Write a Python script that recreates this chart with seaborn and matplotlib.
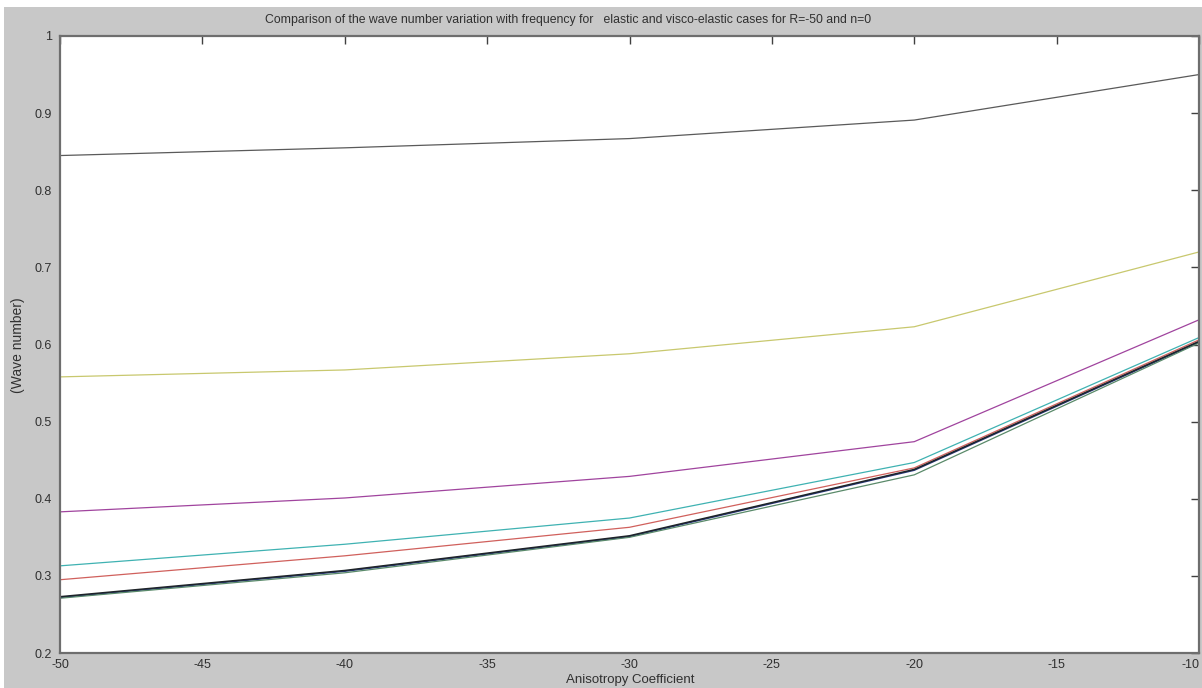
import pandas as pd
import seaborn as sns
import matplotlib.pyplot as plt
from matplotlib.patches import Rectangle

# anisotropy coefficient values (x axis)
aniso = [-50, -40, -30, -20, -10]

# wave number for each curve
top_black = [0.845, 0.855, 0.867, 0.891, 0.950]
yellow = [0.558, 0.567, 0.588, 0.623, 0.720]
magenta = [0.383, 0.401, 0.429, 0.474, 0.632]
cyan = [0.313, 0.341, 0.375, 0.447, 0.609]
red = [0.295, 0.326, 0.363, 0.440, 0.606]
blue = [0.272, 0.306, 0.351, 0.437, 0.603]
green = [0.271, 0.304, 0.350, 0.431, 0.602]
black = [0.273, 0.307, 0.352, 0.438, 0.604]

curves = {"k1": top_black, "y": yellow, "m": magenta, "c": cyan,
          "r": red, "b": blue, "g": green, "k": black}
colours = {"k1": "#5a5a5a", "y": "#c8c86e", "m": "#a0449e", "c": "#3fb2b2",
           "r": "#d0605c", "b": "#2a3a80", "g": "#5a8a6a", "k": "#1e2428"}

rows = []
for name, vals in curves.items():
    for xv, yv in zip(aniso, vals):
        rows.append({"x": xv, "wave": yv, "curve": name})
df = pd.DataFrame(rows)

sns.set_style("white")
plt.rcParams["font.family"] = ["Liberation Sans", "DejaVu Sans"]
plt.rcParams["axes.unicode_minus"] = False

fig = plt.figure(figsize=(12.02, 6.88), dpi=100, facecolor="white")
# MATLAB style grey figure area (screenshot has a thin white border top/left)
fig.patches.append(Rectangle((4 / 1202, 0), 1, 1 - 7 / 688, transform=fig.transFigure,
                             facecolor="#c8c8c8", edgecolor="none", zorder=-5))

ax = fig.add_axes([60 / 1202, 1 - 653 / 688, (1199 - 60) / 1202, (653 - 36) / 688])
ax.set_zorder(3)
ax.set_facecolor("white")

for name in curves:
    sub = df[df["curve"] == name]
    sns.lineplot(data=sub, x="x", y="wave", color=colours[name],
                 lw=1.1 if name in ("k", "b") else 0.9, ax=ax, legend=False)

ax.set_xlim(-50, -10)
ax.set_ylim(0.2, 1.0)
ax.set_xticks([-50, -45, -40, -35, -30, -25, -20, -15, -10])
ax.set_yticks([0.2, 0.3, 0.4, 0.5, 0.6, 0.7, 0.8, 0.9, 1.0])
ax.set_yticklabels(["0.2", "0.3", "0.4", "0.5", "0.6", "0.7", "0.8", "0.9", "1"])
ax.tick_params(direction="in", length=6, width=1, color="#404040",
               top=True, right=True, labelsize=9, labelcolor="#303030")
ax.tick_params(axis="y", pad=6)
ax.tick_params(axis="x", pad=4)
# last tick label sits on the figure edge; anchor it to the right so it stays visible
ax.get_xticklabels()[-1].set_ha("right")
ax.set_xlabel("")
ax.set_ylabel("")
for sp in ax.spines.values():
    sp.set_color("#6e6e6e")
    sp.set_linewidth(1.6)

fig.text(568 / 1202, 1 - 20 / 688,
         "Comparison of the wave number variation with frequency for   elastic and visco-elastic cases for R=-50 and n=0",
         ha="center", va="center", fontsize=8.8, color="#303030")
fig.text(18 / 1202, 1 - 345 / 688, "(Wave number)", rotation=90,
         ha="center", va="center", fontsize=10, color="#303030")
fig.text(630 / 1202, 1 - 680 / 688, "Anisotropy Coefficient",
         ha="center", va="center", fontsize=9.5, color="#303030")

fig.savefig("out.png", dpi=100, facecolor=fig.get_facecolor())
